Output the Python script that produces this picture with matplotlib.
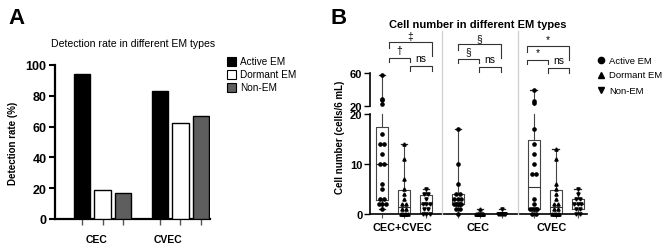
import numpy as np
import matplotlib
matplotlib.use('Agg')
import matplotlib.pyplot as plt
import matplotlib.transforms as mtransforms
from matplotlib.patches import Rectangle
from matplotlib.lines import Line2D

plt.rcParams['font.family'] = ['Liberation Sans', 'DejaVu Sans']

# ---------------- Panel A data ----------------
groups_a = ['CEC', 'CVEC']
em_types = ['Active EM', 'Dormant EM', 'Non-EM']
rate_active = [94.4, 83.3]
rate_dormant = [18.8, 62.5]
rate_non = [16.7, 66.7]

# ---------------- Panel B data ----------------
groups_b = ['CEC+CVEC', 'CEC', 'CVEC']
all_active = [57, 28, 27, 22, 16, 14, 14, 12, 10, 10, 6, 5, 3, 3, 2, 2, 2, 1]
all_dormant = [14, 11, 7, 5, 4, 3, 2, 2, 1, 1, 0, 0, 0, 0, 0, 0]
all_non = [5, 4, 4, 3, 2, 2, 2, 1, 1, 0, 0, 0]
cec_active = [17, 10, 6, 4, 4, 3, 3, 3, 2, 2, 2, 2, 2, 2, 1, 1, 0]
cec_dormant = [1, 0, 0, 0, 0, 0, 0, 0, 0, 0, 0, 0, 0, 0]
cec_non = [1, 0, 0, 0, 0, 0, 0, 0, 0, 0]
cvec_active = [40, 26, 24, 17, 14, 12, 10, 8, 8, 3, 2, 1, 1, 1, 1, 1, 0, 0]
cvec_dormant = [13, 11, 6, 5, 4, 3, 2, 2, 1, 1, 0, 0, 0, 0, 0, 0]
cvec_non = [5, 4, 3, 3, 2, 2, 2, 1, 1, 0, 0]
sig_big = ['‡', '§', '*']
sig_small = ['†', '§', '*']
sig_ns = ['ns', 'ns', 'ns']

W, H = 668, 251
fig = plt.figure(figsize=(W / 100, H / 100), dpi=100)


def fx(px):
    return px / W


def fy(py):
    return 1 - py / H


# ================= Panel A =================
axA = fig.add_axes([fx(55), fy(220), fx(210) - fx(55), fy(66) - fy(220)])
base_a = np.array([0.0, 3.8])
colors_a = ['black', 'white', '#5e5e5e']
for i, (vals, col) in enumerate(zip([rate_active, rate_dormant, rate_non], colors_a)):
    axA.bar(base_a + i, vals, width=0.8, color=col, edgecolor='black', linewidth=1.0, zorder=3)
axA.set_xlim(-1.32, 6.25)
axA.set_ylim(0, 100)
axA.set_yticks([0, 20, 40, 60, 80, 100])
axA.set_yticklabels(['0', '20', '40', '60', '80', '100'], fontweight='bold', fontsize=9)
bar_pos = np.concatenate([base_a + i for i in range(3)])
axA.set_xticks(np.sort(bar_pos))
axA.set_xticklabels([])
axA.set_xticks(base_a + np.array([0.73, 0.42]), groups_a, minor=True)
for lab in axA.get_xticklabels(minor=True):
    lab.set_fontweight('bold')
    lab.set_fontsize(7.5)
axA.tick_params(axis='x', which='minor', length=0, pad=11)
axA.tick_params(axis='x', which='major', length=4, width=1.0, color='#555555')
axA.tick_params(axis='y', which='major', length=4, width=1.5, pad=2)
for s in ['top', 'right']:
    axA.spines[s].set_visible(False)
for s in ['left', 'bottom']:
    axA.spines[s].set_linewidth(1.6)
axA.set_ylabel('Detection rate (%)', fontweight='bold', fontsize=7)
axA.yaxis.set_label_coords(-0.24, 0.5)

fig.text(fx(133), fy(44), 'Detection rate in different EM types', ha='center', va='center', fontsize=7.6)
fig.text(fx(8), fy(18), 'A', ha='left', va='center', fontsize=16, fontweight='bold')

for k, (name, col) in enumerate(zip(em_types, colors_a)):
    yc = 62 + 13 * k
    fig.add_artist(Rectangle((fx(227), fy(yc + 4.5)), 9 / W, 9 / H, facecolor=col,
                             edgecolor='black', linewidth=0.8, transform=fig.transFigure))
    fig.text(fx(240), fy(yc), name, ha='left', va='center', fontsize=7.2)

# ================= Panel B =================
axL = fig.add_axes([fx(370), fy(215), fx(587) - fx(370), fy(115) - fy(215)])
axU = fig.add_axes([fx(370), fy(107), fx(587) - fx(370), fy(70) - fy(107)])
axL.set_ylim(0, 20)
axU.set_ylim(20, 20 + 37 / 0.825)
xl = (-0.55, 9.32)
axL.set_xlim(*xl)
axU.set_xlim(*xl)

pos_b = [[0, 1, 2], [3.45, 4.45, 5.45], [6.9, 7.9, 8.9]]
data_b = [[all_active, all_dormant, all_non],
          [cec_active, cec_dormant, cec_non],
          [cvec_active, cvec_dormant, cvec_non]]
markers = ['o', '^', 'v']


def stats_of(d):
    d = np.asarray(d, float)
    q1, med, q3 = np.percentile(d, [25, 50, 75], method='weibull')
    return dict(med=med, q1=q1, q3=q3, whislo=d.min(), whishi=d.max(), fliers=[])


def jitter(d):
    d = np.asarray(d, float)
    off = np.zeros(len(d))
    for v in np.unique(d):
        idx = np.where(d == v)[0]
        k = len(idx)
        if k > 1:
            step = min(0.16, 0.32 / (k - 1))
            off[idx] = (np.arange(k) - (k - 1) / 2) * step
    return off


boxprops = dict(color='#444444', linewidth=0.8)
for gi in range(3):
    for si in range(3):
        d = np.asarray(data_b[gi][si], float)
        p = pos_b[gi][si]
        st = stats_of(d)
        off = jitter(d)
        axes_use = [axL] + ([axU] if d.max() > 20 else [])
        for ax in axes_use:
            ax.bxp([st], positions=[p], widths=0.55, showfliers=False,
                   boxprops=boxprops, whiskerprops=boxprops,
                   capprops=dict(color='#222222', linewidth=0.9),
                   medianprops=dict(color='#333333', linewidth=0.8),
                   capwidths=0.3, manage_ticks=False, zorder=2)
        lo = d <= 20
        axL.plot(p + off[lo], d[lo], linestyle='none', marker=markers[si], ms=2.3,
                 color='black', zorder=4, clip_on=False)
        if (~lo).any():
            axU.plot(p + off[~lo], d[~lo], linestyle='none', marker=markers[si], ms=2.3,
                     color='black', zorder=4, clip_on=False)

# axes styling
for s in ['top', 'right']:
    axL.spines[s].set_visible(False)
for s in ['top', 'right', 'bottom']:
    axU.spines[s].set_visible(False)
axU.spines['left'].set_bounds(20, 60)
for ax in (axL, axU):
    ax.spines['left'].set_linewidth(1.2)
axL.spines['bottom'].set_linewidth(1.2)
axL.set_yticks([0, 10, 20])
axL.set_yticklabels(['0', '10', '20'], fontweight='bold', fontsize=8)
axU.set_yticks([20, 60])
axU.set_yticklabels(['20', '60'], fontweight='bold', fontsize=8)
axU.set_xticks([])
for ax in (axL, axU):
    ax.tick_params(axis='y', length=4, width=1.0, pad=1.5)
axL.set_xticks([p for g in pos_b for p in g])
axL.set_xticklabels([])
axL.tick_params(axis='x', which='major', length=3, width=0.8, color='#555555')
grp_lab_x = [0.91, 4.36, 7.73]
axL.set_xticks(grp_lab_x, groups_b, minor=True)
for lab in axL.get_xticklabels(minor=True):
    lab.set_fontweight('bold')
    lab.set_fontsize(7.8)
axL.tick_params(axis='x', which='minor', length=0, pad=6)

blend = mtransforms.blended_transform_factory(axL.transData, fig.transFigure)
# separators
for xs in [2.72, 6.17]:
    fig.add_artist(Line2D([xs, xs], [fy(215), fy(32)], color='#cfcfcf', linewidth=0.9,
                          transform=blend))

# significance brackets: per group (x1, xmid, x2) and heights in px
br_x = [(0.32, 1.27, 2.27), (3.45, 4.41, 5.41), (6.59, 7.55, 8.5)]
br_y = [(43, 59, 67), (45, 60, 68), (46.5, 61, 69)]


def bracket(x1, x2, ytop, dl, dr):
    fig.add_artist(Line2D([x1, x1, x2, x2], [fy(ytop + dl), fy(ytop), fy(ytop), fy(ytop + dr)],
                          color='#333333', linewidth=0.8, transform=blend))


for gi in range(3):
    x1, xm, x2 = br_x[gi]
    yb, ys, yn = br_y[gi]
    bracket(x1, x2, yb, 6, 14)
    bracket(x1, xm, ys, 4, 4)
    bracket(xm, x2, yn, 5, 5)
    fig.text((x1 + x2) / 2, fy(yb - 6), sig_big[gi], transform=blend, ha='center', va='center',
             fontsize=7.5)
    fig.text((x1 + xm) / 2, fy(ys - 8), sig_small[gi], transform=blend, ha='center', va='center',
             fontsize=7.5)
    fig.text((xm + x2) / 2, fy(yn - 8), sig_ns[gi], transform=blend, ha='center', va='center',
             fontsize=7.5)

fig.text(fx(478), fy(25), 'Cell number in different EM types', ha='center', va='center',
         fontsize=8, fontweight='bold')
fig.text(fx(331), fy(18), 'B', ha='left', va='center', fontsize=16, fontweight='bold')
fig.text(fx(340), fy(137), 'Cell number (cells/6 mL)', rotation=90, ha='center', va='center',
         fontsize=7, fontweight='bold')

for k, (name, mk) in enumerate(zip(em_types, markers)):
    yc = 61 + 15 * k
    fig.add_artist(Line2D([fx(601)], [fy(yc)], marker=mk, ms=4.5, color='black', linestyle='none',
                          transform=fig.transFigure))
    fig.text(fx(609), fy(yc), name, ha='left', va='center', fontsize=6.8)

fig.savefig('out.png', dpi=100)
